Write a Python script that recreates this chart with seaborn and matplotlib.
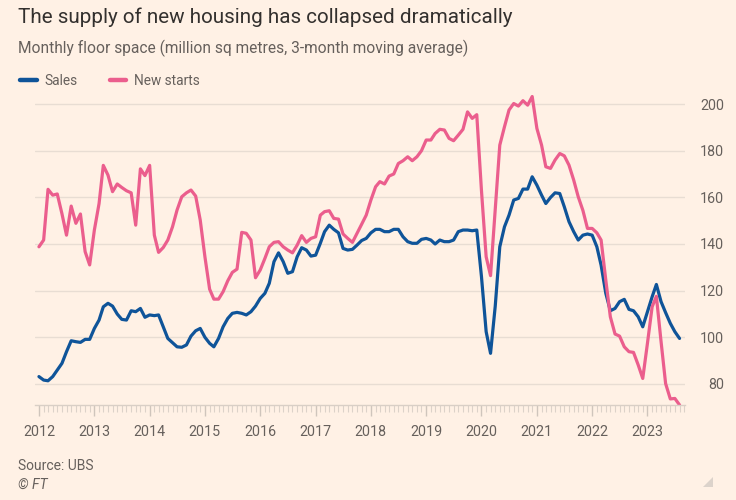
import numpy as np
import pandas as pd
import matplotlib
matplotlib.use("Agg")
import matplotlib.pyplot as plt
import matplotlib.dates as mdates
from matplotlib.patches import Polygon
import seaborn as sns

# ---- data (monthly, Jan 2012 - Aug 2023) ----
start_month = "2012-01-01"
sales = [83, 81.5, 81.2, 83, 85.8, 88.7, 93.7, 98.4, 98, 97.7, 99, 99,
         103.7, 107.3, 113, 114.5, 113.3, 109.9, 107.6, 107.3, 111.3, 110.9, 112.3, 108.5,
         109.5, 109.2, 109.5, 104.4, 99.4, 97.6, 95.8, 95.6, 96.6, 100.4, 102.7, 103.7,
         99.9, 97.3, 95.8, 99.4, 104.4, 108, 110.2, 110.6, 110.2, 109.5, 110.9, 113.3,
         116.6, 118.8, 123.1, 132.4, 136.2, 132.4, 127.4, 128.1, 134.5, 138.4, 137.4, 134.8,
         135.2, 140.3, 145.3, 148.1, 146.3, 144.8, 138.1, 137.4, 137.7, 139.5, 141.5, 142.4,
         144.8, 146.3, 146.3, 145.3, 145.3, 146.3, 146.3, 143.1, 141, 140.3, 140.3, 142,
         142.4, 141.7, 140, 141.7, 141, 141, 141.7, 145.3, 146, 146, 145.7, 146,
         126, 102.3, 93, 113.3, 138.8, 147.4, 152.4, 158.9, 159.6, 163.6, 163.6, 168.9,
         165.3, 161, 157.4, 160, 162, 161.7, 156, 149.6, 145.3, 141.7, 143.8, 144.3,
         143.8, 138.8, 130.9, 118.8, 111.3, 112.3, 115.2, 116.2, 111.9, 111.3, 108.7, 104.4,
         110.9, 117.3, 122.6, 115.2, 110.5, 105.9, 102.3, 99.4]
new_starts = [138.8, 141.7, 163.5, 161, 161.5, 153, 143.8, 156.3, 148.9, 152.9, 136.7, 131,
              146, 157.4, 173.8, 169.6, 162.5, 165.8, 164.3, 162.9, 162, 148.1, 172.3, 169.4,
              173.8, 143.8, 136.4, 138.5, 141.7, 147.4, 154.6, 160.3, 162, 163.2, 160.6, 150.3,
              134.5, 120.6, 116.3, 116.3, 119.5, 124.2, 127.8, 129.2, 145, 144.6, 141.7, 125.5,
              128.8, 133.8, 138.8, 140.7, 141, 138.8, 137.4, 136.2, 139.5, 143.6, 140.7, 142.4,
              143.1, 152.4, 153.9, 154.3, 151, 150.7, 144.3, 142.4, 140.7, 144.5, 148.5, 152.4,
              158.9, 164.6, 166.8, 165.8, 169.2, 170.1, 174.6, 175.8, 177.5, 175.8, 177.5, 180.1,
              184.7, 184.7, 187.5, 189.3, 189, 185.4, 184.4, 186.8, 189.3, 196.8, 194, 195.6,
              163, 134.5, 126.4, 155, 182.5, 190.4, 197.6, 200.4, 199.3, 201.6, 199.7, 203.4,
              189.7, 182.5, 173.2, 172.5, 176.1, 178.9, 177.9, 173.9, 167.5, 160.3, 154.4, 146.7,
              146.7, 144.8, 141.7, 124.5, 108.7, 101.3, 100.4, 95.8, 93.7, 93.4, 88, 82.2,
              97.3, 113, 117.5, 98, 80, 73.4, 73.6, 70.8]
series_names = ["Sales", "New starts"]
y_ticks = [80, 100, 120, 140, 160, 180, 200]

dates = pd.date_range(start_month, periods=len(sales), freq="MS")
df = pd.DataFrame({
    "date": np.concatenate([dates, dates]),
    "value": sales + new_starts,
    "series": [series_names[0]] * len(sales) + [series_names[1]] * len(new_starts),
})

# ---- style ----
BG = "#FFF1E5"
GRID = "#E8DDD3"
TXT = "#66605C"
sns.set_theme(style="white")
plt.rcParams["font.family"] = ["Roboto", "DejaVu Sans"]

fig = plt.figure(figsize=(7.36, 5.0), dpi=100, facecolor=BG)
ax = fig.add_axes([35 / 736, 1 - 404.5 / 500, 650 / 736, (404.5 - 92.8) / 500])
ax.set_facecolor(BG)

palette = {"Sales": "#0F5499", "New starts": "#EB5E8D"}
sns.lineplot(data=df, x="date", y="value", hue="series", palette=palette,
             linewidth=2.3, ax=ax, legend=True)

ax.set_ylim(71, 205)
ax.set_xlim(pd.Timestamp("2011-12-06"), pd.Timestamp("2023-09-06"))
ax.set_xlabel("")
ax.set_ylabel("")

# y axis on right
ax.yaxis.tick_right()
ax.set_yticks(y_ticks)
ax.set_yticklabels([str(v) for v in y_ticks])
ax.tick_params(axis="y", length=0, pad=28, labelsize=10.3, labelcolor=TXT)
for lab in ax.get_yticklabels():
    lab.set_horizontalalignment("right")
ax.yaxis.grid(True, color=GRID, linewidth=1)
ax.xaxis.grid(False)

# x axis
ax.xaxis.set_major_locator(mdates.YearLocator())
ax.xaxis.set_minor_locator(mdates.MonthLocator())
ax.xaxis.set_major_formatter(mdates.DateFormatter("%Y"))
ax.tick_params(axis="x", which="major", length=8, width=1, color="#CFC5BC",
               labelsize=10.3, labelcolor=TXT, pad=7, bottom=True)
ax.tick_params(axis="x", which="minor", length=5, width=0.8, color="#DCD2C9", bottom=True)

for s in ["top", "left", "right"]:
    ax.spines[s].set_visible(False)
ax.spines["bottom"].set_color("#D9CFC6")
ax.spines["bottom"].set_linewidth(1)

# legend
sns.move_legend(ax, "upper left", bbox_to_anchor=(8 / 736, 1 - 62 / 500),
                bbox_transform=fig.transFigure, ncol=2, title=None, frameon=False,
                fontsize=9.8, handlelength=1.2, handletextpad=0.6, columnspacing=2.35)
leg = ax.get_legend()
for t in leg.get_texts():
    t.set_color(TXT)
for h in leg.get_lines():
    h.set_linewidth(3.2)

# titles
fig.text(18 / 736, 1 - 17 / 500, "The supply of new housing has collapsed dramatically",
         fontsize=14.9, color="#33302E", va="center", ha="left")
fig.text(18 / 736, 1 - 48 / 500, "Monthly floor space (million sq metres, 3-month moving average)",
         fontsize=11.2, color=TXT, va="center", ha="left")
fig.text(18 / 736, 1 - 466 / 500, "Source: UBS", fontsize=10, color=TXT, va="center", ha="left")
fig.text(18 / 736, 1 - 485 / 500, "© FT", fontsize=10, color=TXT, va="center", ha="left",
         style="italic")

tri = Polygon([[713 / 736, 1 - 477 / 500], [713 / 736, 1 - 487 / 500], [703 / 736, 1 - 487 / 500]],
              closed=True, transform=fig.transFigure, facecolor="#DCD3CB", edgecolor="none")
fig.patches.append(tri)

fig.savefig("out.png", dpi=100, facecolor=BG)
